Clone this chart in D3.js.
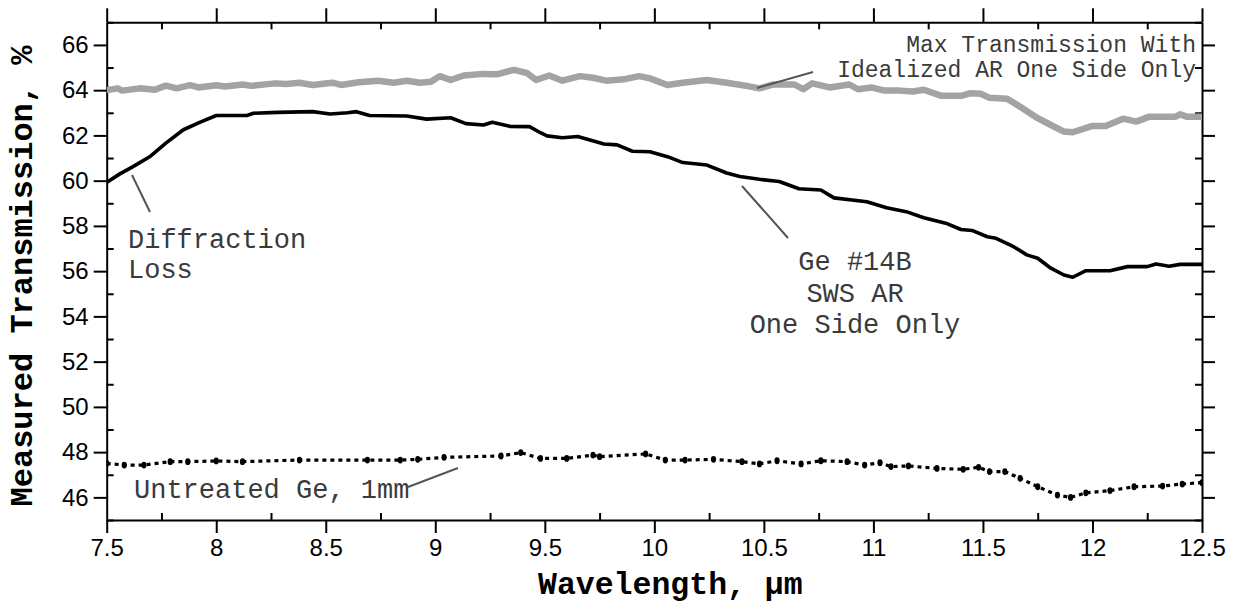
<!DOCTYPE html>
<html><head><meta charset="utf-8">
<script src="https://cdn.jsdelivr.net/npm/d3@7"></script>
<style>body{margin:0;background:#fff;} svg{display:block;}</style>
</head><body>
<script>
// ---- data ----
const idealWl = [7.50,7.55,7.57,7.65,7.72,7.77,7.82,7.88,7.92,8.00,8.04,8.12,8.16,8.27,8.32,8.38,8.44,8.53,8.57,8.65,8.74,8.81,8.87,8.93,8.98,9.02,9.07,9.13,9.22,9.28,9.36,9.42,9.46,9.52,9.58,9.66,9.72,9.78,9.86,9.93,9.98,10.06,10.13,10.24,10.33,10.42,10.48,10.54,10.64,10.68,10.72,10.80,10.89,10.93,10.99,11.05,11.12,11.18,11.23,11.31,11.40,11.44,11.49,11.53,11.61,11.67,11.75,11.81,11.87,11.91,12.00,12.06,12.14,12.20,12.26,12.38,12.40,12.43,12.50];
const idealT  = [64.00,64.08,63.98,64.08,64.02,64.20,64.08,64.22,64.12,64.22,64.16,64.25,64.19,64.30,64.27,64.33,64.23,64.33,64.23,64.35,64.42,64.33,64.42,64.33,64.37,64.62,64.45,64.65,64.72,64.70,64.90,64.75,64.45,64.65,64.42,64.62,64.55,64.42,64.48,64.62,64.52,64.23,64.33,64.45,64.33,64.19,64.08,64.25,64.25,64.04,64.30,64.12,64.25,64.04,64.12,63.98,63.98,63.94,64.02,63.75,63.75,63.86,63.84,63.66,63.62,63.27,62.76,62.46,62.17,62.14,62.42,62.42,62.74,62.61,62.83,62.83,62.93,62.83,62.83];

const swsWl = [7.50,7.56,7.62,7.70,7.77,7.85,7.93,8.00,8.14,8.17,8.28,8.44,8.52,8.60,8.64,8.70,8.87,8.96,9.07,9.14,9.22,9.26,9.34,9.43,9.48,9.51,9.58,9.65,9.77,9.83,9.90,9.98,10.06,10.13,10.24,10.33,10.39,10.48,10.57,10.66,10.76,10.82,10.97,11.06,11.15,11.23,11.33,11.40,11.45,11.52,11.56,11.64,11.70,11.75,11.81,11.87,11.91,11.97,12.08,12.16,12.25,12.29,12.35,12.40,12.50];
const swsT  = [59.92,60.30,60.62,61.08,61.66,62.25,62.60,62.88,62.88,62.98,63.02,63.05,62.95,63.00,63.05,62.88,62.86,62.72,62.78,62.52,62.46,62.58,62.40,62.39,62.12,61.98,61.90,61.95,61.62,61.58,61.30,61.28,61.06,60.80,60.69,60.34,60.18,60.06,59.96,59.64,59.59,59.24,59.07,58.80,58.63,58.36,58.12,57.84,57.80,57.52,57.45,57.08,56.72,56.57,56.13,55.83,55.73,56.02,56.02,56.20,56.20,56.32,56.22,56.30,56.30];

const rawWl = [7.50,7.58,7.67,7.79,7.87,8.00,8.12,8.38,8.69,8.84,8.92,9.04,9.30,9.39,9.48,9.60,9.72,9.75,9.96,10.05,10.14,10.27,10.40,10.48,10.56,10.67,10.76,10.88,10.96,11.03,11.08,11.16,11.29,11.41,11.48,11.53,11.60,11.67,11.75,11.84,11.90,11.97,12.08,12.19,12.32,12.41,12.50];
const rawT  = [47.50,47.43,47.43,47.58,47.58,47.61,47.58,47.65,47.65,47.65,47.68,47.77,47.83,47.98,47.72,47.72,47.87,47.80,47.92,47.65,47.65,47.68,47.58,47.48,47.62,47.48,47.62,47.58,47.43,47.53,47.36,47.39,47.28,47.24,47.33,47.14,47.14,46.84,46.47,46.10,46.00,46.20,46.30,46.47,46.50,46.59,46.65];

const xMajorTicks = [7.5,8,8.5,9,9.5,10,10.5,11,11.5,12,12.5];
const yMajorTicks = [46,48,50,52,54,56,58,60,62,64,66];
const xLabel = "Wavelength, µm";
const yLabel = "Measured Transmission, %";

// ---- layout ----
const W = 1236, H = 603;
const x0 = 106.7, x1 = 1202, yTop = 22.3, yBot = 520;
const svg = d3.select("body").append("svg").attr("width", W).attr("height", H);

const x = d3.scaleLinear().domain([7.5, 12.5]).range([x0, x1]);
const y = d3.scaleLinear().domain([45, 67]).range([yBot, yTop]);

const xMinor = d3.range(7.75, 12.5, 0.5);
const yMinor = d3.range(45, 68, 2);

const axisFont = "'Liberation Sans', Arial, sans-serif";
const monoFont = "'Liberation Mono', 'Courier New', monospace";

function styleAxis(g){ g.selectAll("path").attr("stroke","#000").attr("stroke-width",2);
  g.selectAll("line").attr("stroke","#000").attr("stroke-width",2); }

// bottom
const gB = svg.append("g").attr("transform",`translate(0,${yBot})`)
  .call(d3.axisBottom(x).tickValues(xMajorTicks).tickSize(13).tickSizeOuter(0).tickPadding(6).tickFormat(d3.format("")));
styleAxis(gB);
gB.selectAll("text").attr("font-family",axisFont).attr("font-size",24).attr("fill","#000");
svg.append("g").attr("transform",`translate(0,${yBot})`)
  .call(d3.axisTop(x).tickValues(xMinor).tickSize(7).tickSizeOuter(0).tickFormat(""))
  .call(g=>g.select("path").remove()).call(styleAxis);
// top
svg.append("g").attr("transform",`translate(0,${yTop})`)
  .call(d3.axisTop(x).tickValues(xMajorTicks).tickSize(14).tickSizeOuter(0).tickFormat(""))
  .call(styleAxis);
svg.append("g").attr("transform",`translate(0,${yTop})`)
  .call(d3.axisBottom(x).tickValues(xMinor).tickSize(7).tickSizeOuter(0).tickFormat(""))
  .call(g=>g.select("path").remove()).call(styleAxis);
// left
const gL = svg.append("g").attr("transform",`translate(${x0},0)`)
  .call(d3.axisLeft(y).tickValues(yMajorTicks).tickSize(13).tickSizeOuter(0).tickPadding(5).tickFormat(d3.format("")));
styleAxis(gL);
gL.selectAll("text").attr("font-family",axisFont).attr("font-size",24).attr("fill","#000");
svg.append("g").attr("transform",`translate(${x0},0)`)
  .call(d3.axisRight(y).tickValues(yMinor).tickSize(7).tickSizeOuter(0).tickFormat(""))
  .call(g=>g.select("path").remove()).call(styleAxis);
// right
svg.append("g").attr("transform",`translate(${x1},0)`)
  .call(d3.axisRight(y).tickValues(yMajorTicks).tickSize(13).tickSizeOuter(0).tickFormat(""))
  .call(styleAxis);
svg.append("g").attr("transform",`translate(${x1},0)`)
  .call(d3.axisLeft(y).tickValues(yMinor).tickSize(7).tickSizeOuter(0).tickFormat(""))
  .call(g=>g.select("path").remove()).call(styleAxis);

svg.append("defs").append("clipPath").attr("id","c")
  .append("rect").attr("x",x0).attr("y",yTop-4).attr("width",x1-x0).attr("height",yBot-yTop+8);

const line = d3.line().x(d=>x(d[0])).y(d=>y(d[1]));
const pts = (a,b)=>a.map((w,i)=>[w,b[i]]);

const plot = svg.append("g").attr("clip-path","url(#c)");
plot.append("path").datum(pts(idealWl,idealT)).attr("d",line)
  .attr("fill","none").attr("stroke","#a3a3a3").attr("stroke-width",6.5).attr("stroke-linejoin","round");
plot.append("path").datum(pts(swsWl,swsT)).attr("d",line)
  .attr("fill","none").attr("stroke","#000").attr("stroke-width",3.6).attr("stroke-linejoin","round");
plot.append("path").datum(pts(rawWl,rawT)).attr("d",line)
  .attr("fill","none").attr("stroke","#000").attr("stroke-width",3.2).attr("stroke-dasharray","4,4");
plot.selectAll("ellipse.raw").data(pts(rawWl,rawT)).enter().append("ellipse")
  .attr("cx",d=>x(d[0])).attr("cy",d=>y(d[1])).attr("rx",2.6).attr("ry",3.4).attr("fill","#000");

// axis titles
svg.append("text").attr("x",538).attr("y",594).attr("font-family",monoFont).attr("font-weight","bold")
  .attr("font-size",31.5).attr("fill","#000").text(xLabel);
svg.append("text").attr("transform","translate(32,276) rotate(-90)").attr("text-anchor","middle")
  .attr("font-family",monoFont).attr("font-weight","bold").attr("font-size",32).attr("fill","#000").text(yLabel);

// annotations
const ann = svg.append("g").attr("font-family",monoFont).attr("fill","#3a3a3a");
function lead(xa,ya,xb,yb){ svg.append("line").attr("x1",xa).attr("y1",ya).attr("x2",xb).attr("y2",yb)
  .attr("stroke","#555").attr("stroke-width",2); }
ann.append("text").attr("x",1196).attr("y",52).attr("text-anchor","end").attr("font-size",23).text("Max Transmission With");
ann.append("text").attr("x",1196).attr("y",77).attr("text-anchor","end").attr("font-size",23).text("Idealized AR One Side Only");
lead(757,88,813,72);
ann.append("text").attr("x",128).attr("y",248).attr("font-size",27).text("Diffraction");
ann.append("text").attr("x",128).attr("y",278).attr("font-size",27).text("Loss");
lead(132,175,150,212);
ann.append("text").attr("x",855).attr("y",270).attr("text-anchor","middle").attr("font-size",27).text("Ge #14B");
ann.append("text").attr("x",855).attr("y",302).attr("text-anchor","middle").attr("font-size",27).text("SWS AR");
ann.append("text").attr("x",855).attr("y",333).attr("text-anchor","middle").attr("font-size",27).text("One Side Only");
lead(742,186,788,238);
ann.append("text").attr("x",134).attr("y",498).attr("font-size",27).text("Untreated Ge, 1mm");
lead(408,487,458,468);
</script>
</body></html>
